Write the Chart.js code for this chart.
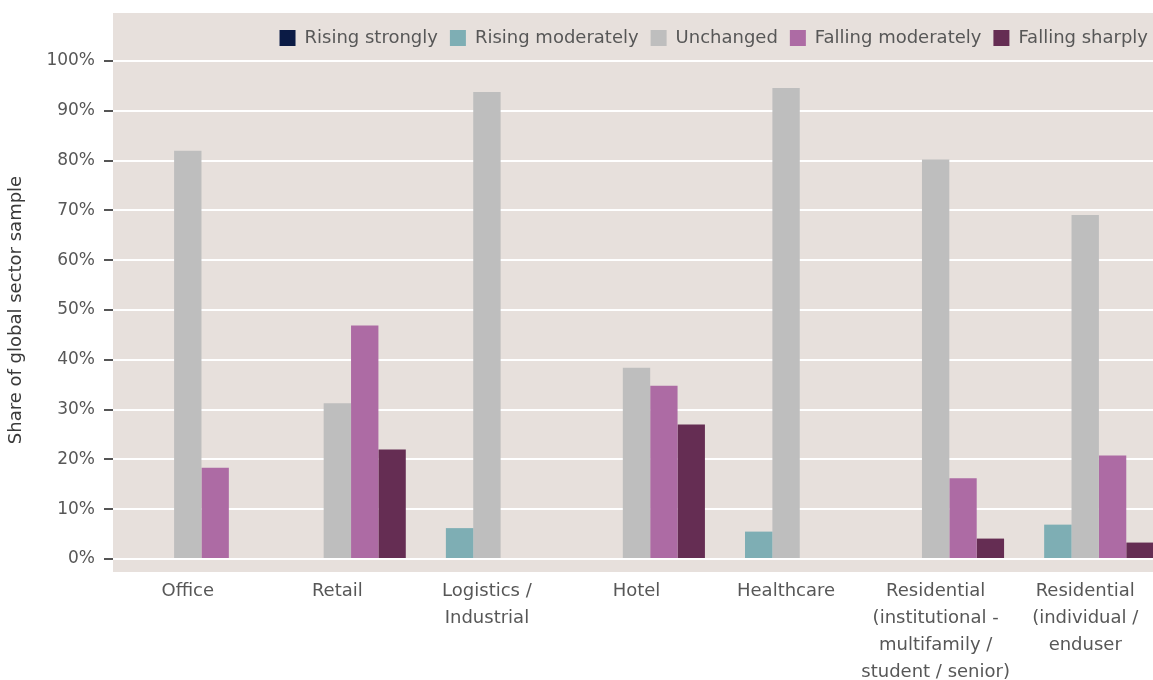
<!DOCTYPE html>
<html>
<head>
<meta charset="utf-8">
<script src="https://cdn.jsdelivr.net/npm/chart.js@4"></script>
<style>
  html, body { margin: 0; padding: 0; background: #ffffff; overflow: hidden; }
  #wrap { width: 1160px; height: 680px; position: relative; }
</style>
</head>
<body>
<div id="wrap"><canvas id="sectorChart"></canvas></div>
<script>
// sectors on the x axis
const sectors = [
    'Office',
    'Retail',
    ['Logistics /', 'Industrial'],
    'Hotel',
    'Healthcare',
    ['Residential', '(institutional -', 'multifamily /', 'student / senior)'],
    ['Residential', '(individual /', 'enduser']
];

// share of sample per answer (%)
const risingStrongly     = [0, 0, 0, 0, 0, 0, 0];
const risingModerately   = [0, 0, 6.2, 0, 5.5, 0, 6.9];
const unchanged          = [82.0, 31.3, 93.8, 38.4, 94.6, 80.2, 69.1];
const fallingModerately  = [18.3, 46.9, 0, 34.8, 0, 16.2, 20.8];
const fallingSharply     = [0, 22.0, 0, 27.0, 0, 4.1, 3.3];

const yTicks = [0, 10, 20, 30, 40, 50, 60, 70, 80, 90, 100];

const textColor = '#575757';
const fontFamily = '"DejaVu Sans", "Open Sans", sans-serif';

// beige panel behind the plot
const panelBg = {
    id: 'panelBg',
    beforeLayout(chart) {
        // a bit more room under the legend
        const lg = chart.legend;
        if (lg && !lg._extraGap) {
            const fit = lg.fit;
            lg.fit = function() { fit.call(this); this.height += 4; };
            lg._extraGap = true;
        }
    },
    beforeDraw(chart) {
        const a = chart.chartArea;
        const ctx = chart.ctx;
        ctx.save();
        ctx.fillStyle = '#e7e0dc';
        ctx.fillRect(a.left, a.top - 48, a.right - a.left, a.bottom - a.top + 61);
        ctx.restore();
    }
};

function makeSet(label, data, color) {
    return {
        label: label,
        data: data,
        backgroundColor: color,
        borderWidth: 0,
        barPercentage: 1,
        categoryPercentage: 0.915
    };
}

const ctx = document.getElementById('sectorChart').getContext('2d');
const chart = new Chart(ctx, {
    type: 'bar',
    data: {
        labels: sectors,
        datasets: [
            makeSet('Rising strongly', risingStrongly, '#0b1b45'),
            makeSet('Rising moderately', risingModerately, '#7eaeb4'),
            makeSet('Unchanged', unchanged, '#bebebe'),
            makeSet('Falling moderately', fallingModerately, '#ad6ba4'),
            makeSet('Falling sharply', fallingSharply, '#652d53')
        ]
    },
    options: {
        responsive: true,
        maintainAspectRatio: false,
        animation: false,
        layout: { padding: { top: 17, right: 0, left: 0, bottom: 0 } },
        plugins: {
            tooltip: { enabled: false },
            legend: {
                position: 'top',
                align: 'end',
                labels: {
                    boxWidth: 16,
                    boxHeight: 16,
                    padding: 12,
                    color: textColor,
                    font: { family: fontFamily, size: 18 }
                }
            }
        },
        scales: {
            x: {
                grid: { display: false, drawTicks: false },
                border: { display: false },
                ticks: {
                    color: textColor,
                    padding: 19,
                    maxRotation: 0,
                    autoSkip: false,
                    font: { family: fontFamily, size: 18, lineHeight: 1.5 }
                },
                afterFit(scale) { scale.height = 121; }
            },
            y: {
                min: 0,
                max: 100,
                afterBuildTicks(scale) {
                    scale.ticks = yTicks.map(v => ({ value: v }));
                },
                grid: {
                    color: '#ffffff',
                    lineWidth: 2,
                    tickColor: '#555555',
                    tickLength: 9,
                    tickWidth: 2
                },
                border: { display: false },
                ticks: {
                    color: textColor,
                    padding: 9,
                    font: { family: fontFamily, size: 17 },
                    callback: v => v + '%'
                },
                title: {
                    display: true,
                    text: 'Share of global sector sample',
                    color: '#3a3a3a',
                    padding: { top: 6, bottom: 4 },
                    font: { family: fontFamily, size: 18 }
                },
                afterFit(scale) { scale.width = 113; }
            }
        }
    },
    plugins: [panelBg]
});
</script>
</body>
</html>
